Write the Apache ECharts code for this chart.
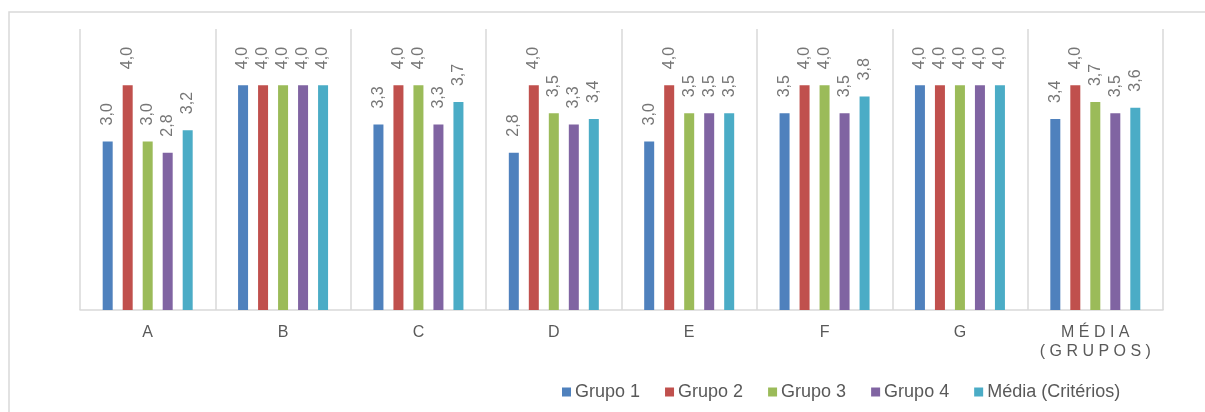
<!DOCTYPE html>
<html>
<head>
<meta charset="utf-8">
<style>
  html, body { margin: 0; padding: 0; background: #ffffff; }
  #chart { width: 1205px; height: 412px; }
</style>
<script src="https://cdn.jsdelivr.net/npm/echarts@6/dist/echarts.min.js"></script>
</head>
<body>
<div id="chart"></div>
<script>
// Criteria (categories) and the score of each group per criterion
const categories = ['A', 'B', 'C', 'D', 'E', 'F', 'G', 'M É D I A\n( G R U P O S )'];
const seriesNames = ['Grupo 1', 'Grupo 2', 'Grupo 3', 'Grupo 4', 'Média (Critérios)'];
const grupo1 = [3.0, 4.0, 3.3, 2.8, 3.0, 3.5, 4.0, 3.4];
const grupo2 = [4.0, 4.0, 4.0, 4.0, 4.0, 4.0, 4.0, 4.0];
const grupo3 = [3.0, 4.0, 4.0, 3.5, 3.5, 4.0, 4.0, 3.7];
const grupo4 = [2.8, 4.0, 3.3, 3.3, 3.5, 3.5, 4.0, 3.5];
const mediaCriterios = [3.2, 4.0, 3.7, 3.4, 3.5, 3.8, 4.0, 3.6];
const colors = ['#4f81bd', '#c0504d', '#9bbb59', '#8064a2', '#4bacc6'];

const allValues = [grupo1, grupo2, grupo3, grupo4, mediaCriterios];
const textColor = '#595959';
const labelColor = '#767676';
const fontFamily = '"Liberation Sans", Arial, sans-serif';

const chart = echarts.init(document.getElementById('chart'), null, { renderer: 'canvas' });

const series = seriesNames.map((name, i) => ({
  name: name,
  type: 'bar',
  data: allValues[i],
  barWidth: 10,
  barGap: '100%',
  itemStyle: { color: colors[i] },
  label: {
    show: true,
    position: 'top',
    rotate: 90,
    align: 'left',
    verticalAlign: 'middle',
    distance: 16,
    color: labelColor,
    fontFamily: fontFamily,
    fontSize: 16,
    formatter: p => p.value.toFixed(1).replace('.', ',')
  }
}));

chart.setOption({
  animation: false,
  backgroundColor: '#ffffff',
  color: colors,
  graphic: [{
    type: 'rect',
    shape: { x: 9, y: 12, width: 1400, height: 600 },
    style: { fill: 'none', stroke: '#d9d9d9', lineWidth: 1.5 },
    silent: true,
    z: -1
  }],
  grid: { left: 80, right: 42, top: 29, bottom: 102, containLabel: false },
  legend: {
    data: seriesNames,
    left: 557,
    top: 378,
    itemWidth: 9,
    itemHeight: 9,
    itemGap: 25,
    icon: 'rect',
    textStyle: { color: textColor, fontSize: 18, fontFamily: fontFamily, padding: [0, 0, 0, -1] }
  },
  xAxis: {
    type: 'category',
    data: categories,
    axisLine: { show: true, lineStyle: { color: '#d9d9d9', width: 1.5 } },
    axisTick: { show: false },
    splitLine: { show: true, lineStyle: { color: '#d9d9d9', width: 1.5 } },
    axisLabel: {
      color: textColor,
      fontSize: 16,
      fontFamily: fontFamily,
      margin: 13,
      lineHeight: 19,
      interval: 0
    }
  },
  yAxis: {
    type: 'value',
    min: 0,
    max: 5,
    show: false,
    splitLine: { show: false }
  },
  series: series
});
</script>
</body>
</html>
